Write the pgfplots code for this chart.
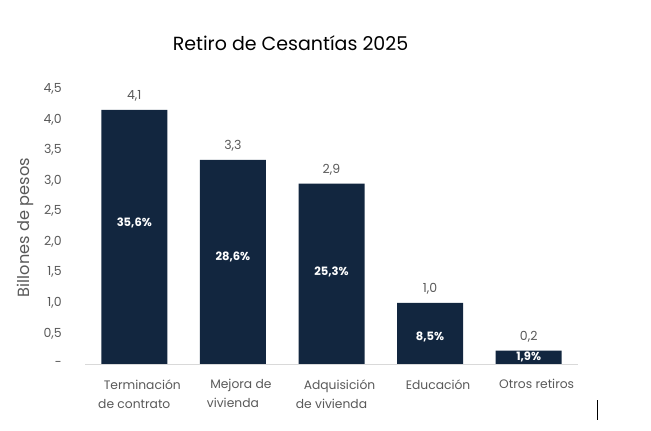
\documentclass[border=0pt]{standalone}
\usepackage{fontspec}
\setmainfont{Poppins}
\usepackage{pgfplots}
\pgfplotsset{compat=1.18}
\definecolor{barnavy}{HTML}{12263F}
\definecolor{txtgray}{HTML}{595959}
\definecolor{axgray}{HTML}{D9D9D9}
\newcommand{\pad}{\hspace*{16pt}}
\begin{document}
\begin{tikzpicture}
\begin{axis}[
  at={(85pt,67pt)}, anchor=south west,
  scale only axis, width=493pt, height=275pt,
  xmin=-0.5, xmax=4.5, ymin=0, ymax=4.5,
  axis y line=none,
  axis x line*=bottom,
  x axis line style={axgray, line width=0.8pt, -},
  xtick={0,1,2,3,4},
  xticklabels={{\pad Terminación\\de contrato},{\pad Mejora de\\vivienda},{\pad Adquisición\\de vivienda},{\pad Educación},{\pad Otros retiros}},
  xticklabel style={align=center, text=txtgray, font=\fontsize{12.3}{19}\selectfont, anchor=north, yshift=-12pt},
  major tick length=0pt,
  clip=false,
]
\addplot[ybar, bar width=66pt, bar shift=0pt, fill=barnavy, draw=none,
  nodes near coords, point meta=explicit symbolic,
  nodes near coords style={text=txtgray, font=\fontsize{12.5}{14}\selectfont, anchor=south, yshift=5pt}]
  coordinates {(0,4.16)[4,1] (1,3.34)[3,3] (2,2.95)[2,9] (3,1.00)[1,0] (4,0.22)[0,2]};
\addplot[only marks, mark=none, nodes near coords, point meta=explicit symbolic,
  nodes near coords style={text=white, font=\bfseries\fontsize{11.5}{13}\selectfont, anchor=center}]
  coordinates {(0,2.3)[35,6\%] (1,1.75)[28,6\%] (2,1.5)[25,3\%] (3,0.45)[8,5\%] (4,0.11)[1,9\%]};
% y tick labels set beside the hidden y axis
\addplot[only marks, mark=none, nodes near coords, point meta=explicit symbolic,
  nodes near coords style={text=txtgray, font=\fontsize{12.5}{14}\selectfont, anchor=east}]
  coordinates {(-0.70,0)[-] (-0.70,0.5)[0,5] (-0.70,1)[1,0] (-0.70,1.5)[1,5] (-0.70,2)[2,0]
   (-0.70,2.5)[2,5] (-0.70,3)[3,0] (-0.70,3.5)[3,5] (-0.70,4)[4,0] (-0.70,4.5)[4,5]};
\end{axis}
\node[font=\fontsize{19}{22}\selectfont, text=black] at (290.5pt,388pt) {Retiro de Cesantías 2025};
\node[rotate=90, text=txtgray, font=\fontsize{16.2}{18}\selectfont] at (25pt,203.5pt) {Billones de pesos};
\draw[black, line width=1pt] (597pt,11pt) -- (597pt,31pt);
\path[use as bounding box] (0,0) rectangle (651pt,431pt);
\end{tikzpicture}
\end{document}
